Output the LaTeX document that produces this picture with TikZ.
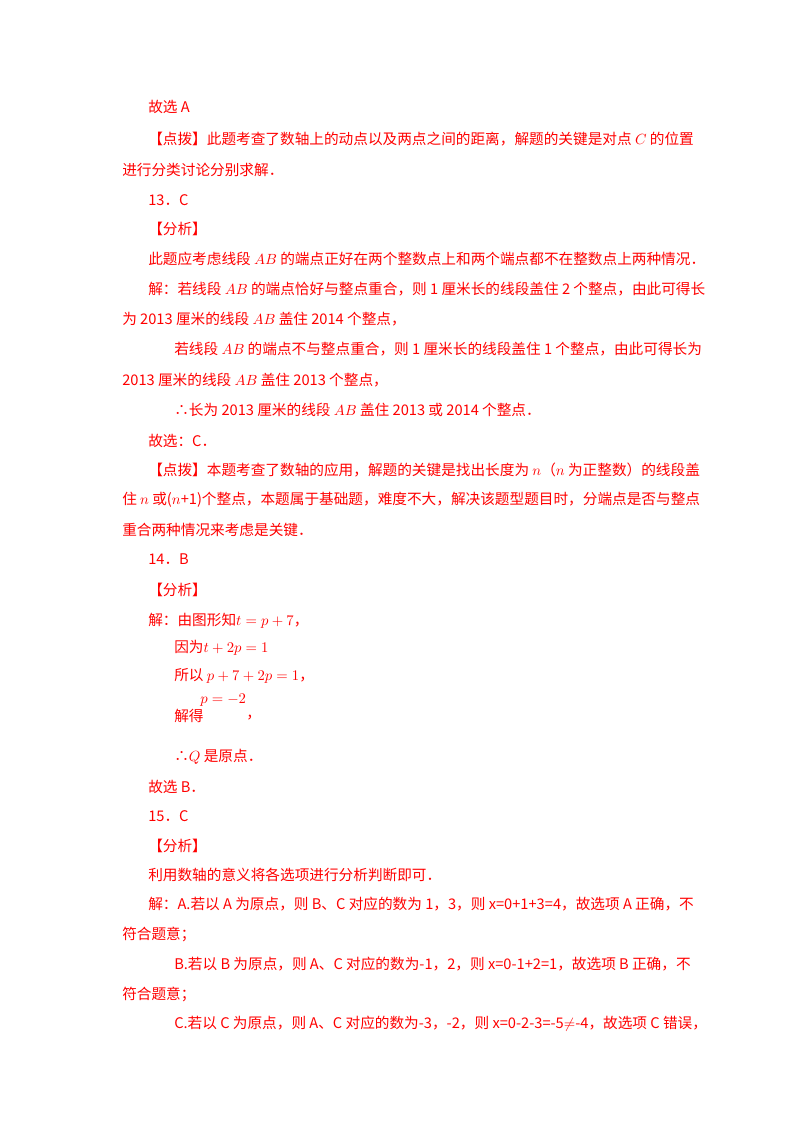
\documentclass[tikz,border=0pt]{standalone}
\usepackage{fontspec}
\setmainfont{Liberation Serif}
\newfontfamily\cjk{Noto Sans CJK SC}
\definecolor{tred}{RGB}{255,0,0}
\begin{document}
\begin{tikzpicture}[x=0.744pt,y=-0.744pt,
  ln/.style={anchor=west,inner sep=0pt,text=tred,font=\cjk\fontsize{10.9}{13}\selectfont}]
\useasboundingbox (0,0) rectangle (800,1132);
\node[ln] (l1) at (148,107) {故选 A};
\node[ln] (l2) at (148,139) {【点拨】此题考查了数轴上的动点以及两点之间的距离，解题的关键是对点 $C$ 的位置};
\node[ln] (l3) at (122,170) {进行分类讨论分别求解．};
\node[ln] (l4) at (148,200) {13．C};
\node[ln] (l5) at (148,229) {【分析】};
\node[ln] (l6) at (148,259) {此题应考虑线段 $AB$ 的端点正好在两个整数点上和两个端点都不在整数点上两种情况．};
\node[ln] (l7) at (148,289) {解：若线段 $AB$ 的端点恰好与整点重合，则 1 厘米长的线段盖住 2 个整点，由此可得长};
\node[ln] (l8) at (122,319) {为 2013 厘米的线段 $AB$ 盖住 2014 个整点，};
\node[ln] (l9) at (174,349) {若线段 $AB$ 的端点不与整点重合，则 1 厘米长的线段盖住 1 个整点，由此可得长为};
\node[ln] (l10) at (122,380) {2013 厘米的线段 $AB$ 盖住 2013 个整点，};
\node[ln] (l11) at (174,410) {∴长为 2013 厘米的线段 $AB$ 盖住 2013 或 2014 个整点．};
\node[ln] (l12) at (148,441) {故选：C．};
\node[ln] (l13) at (148,470) {【点拨】本题考查了数轴的应用，解题的关键是找出长度为 $n$（$n$ 为正整数）的线段盖};
\node[ln] (l14) at (122,500) {住 $n$ 或($n$+1)个整点，本题属于基础题，难度不大，解决该题型题目时，分端点是否与整点};
\node[ln] (l15) at (122,530) {重合两种情况来考虑是关键．};
\node[ln] (l16) at (148,559) {14．B};
\node[ln] (l17) at (148,590) {【分析】};
\node[ln] (l18) at (148,621) {解：由图形知$t=p+7$，};
\node[ln] (l19) at (174,648) {因为$t+2p=1$};
\node[ln] (l20) at (174,676) {所以 $p+7+2p=1$，};
\node[ln] (l21) at (174,716) {解得};
\node[ln] (l21b) at (200,700) {$p=-2$};
\node[ln] (l21c) at (246,718) {，};
\node[ln] (l22) at (174,757) {∴$Q$ 是原点．};
\node[ln] (l23) at (148,787) {故选 B．};
\node[ln] (l24) at (148,816) {15．C};
\node[ln] (l25) at (148,846) {【分析】};
\node[ln] (l26) at (148,875) {利用数轴的意义将各选项进行分析判断即可．};
\node[ln] (l27) at (148,904) {解：A.若以 A 为原点，则 B、C 对应的数为 1，3，则 x=0+1+3=4，故选项 A 正确，不};
\node[ln] (l28) at (122,934) {符合题意；};
\node[ln] (l29) at (174,964) {B.若以 B 为原点，则 A、C 对应的数为-1，2，则 x=0-1+2=1，故选项 B 正确，不};
\node[ln] (l30) at (122,994) {符合题意；};
\node[ln] (l31) at (174,1024) {C.若以 C 为原点，则 A、C 对应的数为-3，-2，则 x=0-2-3=-5$\neq$-4，故选项 C 错误，};
\end{tikzpicture}
\end{document}
